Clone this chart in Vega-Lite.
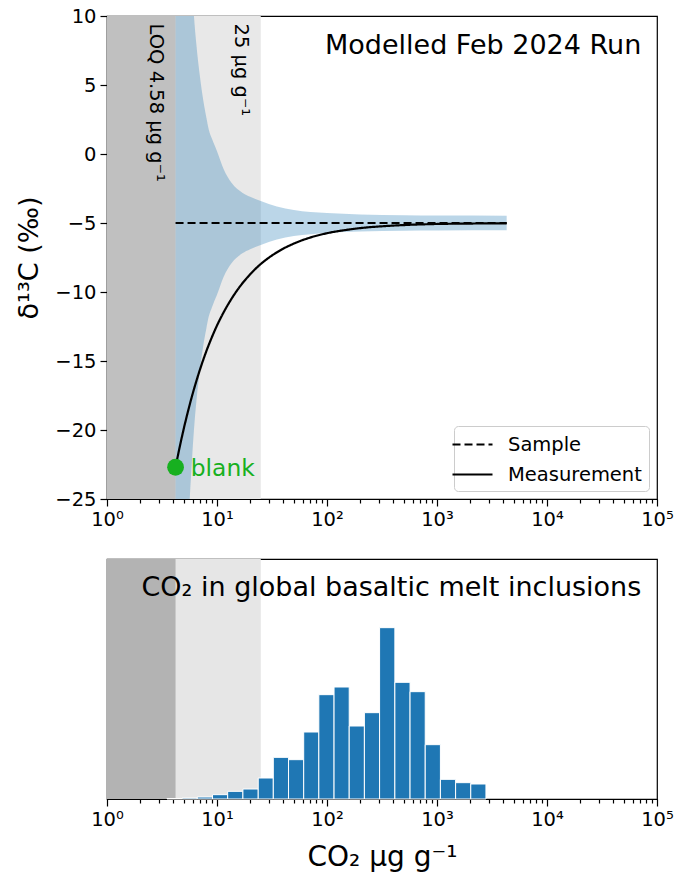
{
  "$schema": "https://vega.github.io/schema/vega-lite/v6.json",
  "background": "white",
  "padding": {"left": 15, "top": 5, "right": 10, "bottom": 0},
  "spacing": 28,
  "resolve": {"legend": {"strokeDash": "independent"}},
  "config": {
    "font": "DejaVu Sans",
    "view": {"stroke": "black", "strokeWidth": 1.2},
    "axis": {
      "domainColor": "black", "tickColor": "black", "labelColor": "black", "titleColor": "black",
      "labelFontSize": 19.5, "titleFontSize": 27, "titleFontWeight": "normal",
      "grid": false, "tickSize": 7, "domainWidth": 1.2, "tickWidth": 1.2, "labelPadding": 4
    }
  },
  "vconcat": [
    {
      "width": 550,
      "height": 483,
      "layer": [
        {
          "data": {"values": [{"a": 1, "b": 25}]},
          "mark": {"type": "rect", "color": "#e8e8e8"},
          "encoding": {
            "x": {"field": "a", "type": "quantitative",
              "scale": {"type": "log", "domain": [1, 100000]},
              "axis": {
                "title": null,
                "values": [1,2,3,4,5,6,7,8,9,10,20,30,40,50,60,70,80,90,100,200,300,400,500,600,700,800,900,1000,2000,3000,4000,5000,6000,7000,8000,9000,10000,20000,30000,40000,50000,60000,70000,80000,90000,100000],
                "labelExpr": "indexof([1,10,100,1000,10000,100000], datum.value) >= 0 ? '10' + ['⁰','¹','²','³','⁴','⁵'][indexof([1,10,100,1000,10000,100000], datum.value)] : ''",
                "tickSize": {"condition": {"test": "indexof([1,10,100,1000,10000,100000], datum.value) >= 0", "value": 7}, "value": 4},
                "labelFlush": false, "labelOverlap": false
              }},
            "x2": {"field": "b"}
          }
        },
        {
          "data": {"values": [{"a": 1, "b": 4.2}]},
          "mark": {"type": "rect", "color": "#c0c0c0"},
          "encoding": {
            "x": {"field": "a", "type": "quantitative"},
            "x2": {"field": "b"}
          }
        },
        {
          "data": {"values": [
            {"x": 4.2, "lo": -50, "hi": 40},
            {"x": 4.6, "lo": -41, "hi": 31},
            {"x": 5.0, "lo": -34, "hi": 24},
            {"x": 5.3, "lo": -29, "hi": 19},
            {"x": 5.65, "lo": -25, "hi": 15},
            {"x": 5.9, "lo": -22.4, "hi": 12.4},
            {"x": 6.17, "lo": -20, "hi": 10},
            {"x": 6.5, "lo": -17.9, "hi": 7.9},
            {"x": 7.0, "lo": -15.6, "hi": 5.6},
            {"x": 7.5, "lo": -13.9, "hi": 3.9},
            {"x": 8.0, "lo": -12.65, "hi": 2.65},
            {"x": 8.4, "lo": -11.8, "hi": 1.8},
            {"x": 9.0, "lo": -11.1, "hi": 1.1},
            {"x": 10, "lo": -10.2, "hi": 0.2},
            {"x": 11.5, "lo": -8.9, "hi": -1.1},
            {"x": 13.6, "lo": -7.9, "hi": -2.1},
            {"x": 17, "lo": -7.2, "hi": -2.8},
            {"x": 20, "lo": -6.9, "hi": -3.1},
            {"x": 25, "lo": -6.6, "hi": -3.4},
            {"x": 35, "lo": -6.2, "hi": -3.8},
            {"x": 50, "lo": -5.95, "hi": -4.05},
            {"x": 100, "lo": -5.72, "hi": -4.28},
            {"x": 200, "lo": -5.62, "hi": -4.38},
            {"x": 500, "lo": -5.56, "hi": -4.44},
            {"x": 1000, "lo": -5.54, "hi": -4.46},
            {"x": 4300, "lo": -5.53, "hi": -4.47}
          ]},
          "mark": {"type": "area", "color": "#1f77b4", "opacity": 0.3, "clip": true, "interpolate": "monotone"},
          "encoding": {
            "x": {"field": "x", "type": "quantitative"},
            "y": {"field": "lo", "type": "quantitative",
              "scale": {"domain": [-25, 10], "nice": false},
              "axis": {"title": "δ¹³C (‰)", "values": [-25,-20,-15,-10,-5,0,5,10], "titlePadding": 11}},
            "y2": {"field": "hi"}
          }
        },
        {
          "data": {"values": [
            {"x": 4.2, "y": -5, "series": "Sample"},
            {"x": 4300, "y": -5, "series": "Sample"},
            {"x": 4.2, "y": -22.7, "series": "Measurement"},
            {"x": 4.5, "y": -21.52, "series": "Measurement"},
            {"x": 5, "y": -19.87, "series": "Measurement"},
            {"x": 5.5, "y": -18.52, "series": "Measurement"},
            {"x": 6, "y": -17.39, "series": "Measurement"},
            {"x": 6.5, "y": -16.44, "series": "Measurement"},
            {"x": 7, "y": -15.62, "series": "Measurement"},
            {"x": 8, "y": -14.29, "series": "Measurement"},
            {"x": 9, "y": -13.26, "series": "Measurement"},
            {"x": 10, "y": -12.43, "series": "Measurement"},
            {"x": 12, "y": -11.2, "series": "Measurement"},
            {"x": 15, "y": -9.96, "series": "Measurement"},
            {"x": 20, "y": -8.72, "series": "Measurement"},
            {"x": 25, "y": -7.97, "series": "Measurement"},
            {"x": 30, "y": -7.48, "series": "Measurement"},
            {"x": 40, "y": -6.86, "series": "Measurement"},
            {"x": 50, "y": -6.49, "series": "Measurement"},
            {"x": 70, "y": -6.06, "series": "Measurement"},
            {"x": 100, "y": -5.74, "series": "Measurement"},
            {"x": 150, "y": -5.5, "series": "Measurement"},
            {"x": 200, "y": -5.37, "series": "Measurement"},
            {"x": 300, "y": -5.25, "series": "Measurement"},
            {"x": 500, "y": -5.15, "series": "Measurement"},
            {"x": 1000, "y": -5.07, "series": "Measurement"},
            {"x": 2000, "y": -5.04, "series": "Measurement"},
            {"x": 4300, "y": -5.02, "series": "Measurement"}
          ]},
          "mark": {"type": "line", "color": "black", "strokeWidth": 2.2, "clip": true, "interpolate": "monotone"},
          "encoding": {
            "x": {"field": "x", "type": "quantitative"},
            "y": {"field": "y", "type": "quantitative"},
            "detail": {"field": "series"},
            "strokeDash": {"field": "series", "type": "nominal",
              "scale": {"domain": ["Sample", "Measurement"], "range": [[8, 4], [1, 0]]},
              "legend": {
                "title": null, "orient": "bottom-right", "offset": 8,
                "fillColor": "white", "strokeColor": "#cccccc", "cornerRadius": 4, "padding": 7,
                "labelFontSize": 19.5, "labelColor": "black", "symbolType": "M-2,0H2", "symbolSize": 400,
                "symbolFillColor": "transparent", "symbolOffset": 0,
                "symbolStrokeWidth": 2.2, "symbolStrokeColor": "black", "labelOffset": 24, "rowPadding": 9
              }}
          }
        },
        {
          "data": {"values": [{"x": 4.2, "y": -22.7}]},
          "mark": {"type": "circle", "color": "#17b020", "opacity": 1, "size": 283},
          "encoding": {
            "x": {"field": "x", "type": "quantitative"},
            "y": {"field": "y", "type": "quantitative"}
          }
        },
        {
          "data": {"values": [{"x": 5.77, "y": -23.33, "label": "blank"}]},
          "mark": {"type": "text", "color": "#17b020", "fontSize": 23.4, "align": "left", "baseline": "alphabetic"},
          "encoding": {
            "x": {"field": "x", "type": "quantitative"},
            "y": {"field": "y", "type": "quantitative"},
            "text": {"field": "label"}
          }
        },
        {
          "data": {"values": [
            {"x": 2.45, "y": 9.45, "label": "LOQ 4.58 μg g⁻¹"},
            {"x": 14.5, "y": 9.45, "label": "25 μg g⁻¹"}
          ]},
          "mark": {"type": "text", "color": "black", "fontSize": 19.5, "angle": 90, "align": "left", "baseline": "alphabetic"},
          "encoding": {
            "x": {"field": "x", "type": "quantitative"},
            "y": {"field": "y", "type": "quantitative"},
            "text": {"field": "label"}
          }
        },
        {
          "data": {"values": [{"x": 72000, "y": 7.25, "label": "Modelled Feb 2024 Run"}]},
          "mark": {"type": "text", "color": "black", "fontSize": 27, "align": "right", "baseline": "alphabetic"},
          "encoding": {
            "x": {"field": "x", "type": "quantitative"},
            "y": {"field": "y", "type": "quantitative"},
            "text": {"field": "label"}
          }
        }
      ]
    },
    {
      "width": 550,
      "height": 240,
      "layer": [
        {
          "data": {"values": [{"a": 1, "b": 25}]},
          "mark": {"type": "rect", "color": "#e6e6e6"},
          "encoding": {
            "x": {"field": "a", "type": "quantitative",
              "scale": {"type": "log", "domain": [1, 100000]},
              "axis": {
                "title": "CO₂ μg g⁻¹", "titlePadding": 15, "titleFontSize": 28,
                "values": [1,2,3,4,5,6,7,8,9,10,20,30,40,50,60,70,80,90,100,200,300,400,500,600,700,800,900,1000,2000,3000,4000,5000,6000,7000,8000,9000,10000,20000,30000,40000,50000,60000,70000,80000,90000,100000],
                "labelExpr": "indexof([1,10,100,1000,10000,100000], datum.value) >= 0 ? '10' + ['⁰','¹','²','³','⁴','⁵'][indexof([1,10,100,1000,10000,100000], datum.value)] : ''",
                "tickSize": {"condition": {"test": "indexof([1,10,100,1000,10000,100000], datum.value) >= 0", "value": 7}, "value": 4},
                "labelFlush": false, "labelOverlap": false
              }},
            "x2": {"field": "b"}
          }
        },
        {
          "data": {"values": [{"a": 1, "b": 4.2}]},
          "mark": {"type": "rect", "color": "#b3b3b3"},
          "encoding": {
            "x": {"field": "a", "type": "quantitative"},
            "x2": {"field": "b"}
          }
        },
        {
          "data": {"values": [
            {"lo": 3.51, "hi": 4.82, "n": 1.5},
            {"lo": 4.82, "hi": 6.62, "n": 3},
            {"lo": 6.62, "hi": 9.10, "n": 6},
            {"lo": 9.10, "hi": 12.5, "n": 13},
            {"lo": 12.5, "hi": 17.2, "n": 23},
            {"lo": 17.2, "hi": 23.7, "n": 30},
            {"lo": 23.7, "hi": 32.5, "n": 63},
            {"lo": 32.5, "hi": 44.7, "n": 125},
            {"lo": 44.7, "hi": 61.4, "n": 118},
            {"lo": 61.4, "hi": 84.3, "n": 201},
            {"lo": 84.3, "hi": 115.9, "n": 313},
            {"lo": 115.9, "hi": 159.2, "n": 336},
            {"lo": 159.2, "hi": 218.8, "n": 219},
            {"lo": 218.8, "hi": 300.6, "n": 259},
            {"lo": 300.6, "hi": 414.0, "n": 514},
            {"lo": 414.0, "hi": 568.9, "n": 350},
            {"lo": 568.9, "hi": 781.6, "n": 322},
            {"lo": 781.6, "hi": 1074, "n": 163},
            {"lo": 1074, "hi": 1476, "n": 59},
            {"lo": 1476, "hi": 2028, "n": 49},
            {"lo": 2028, "hi": 2786, "n": 45}
          ]},
          "mark": {"type": "rect", "color": "#1f77b4", "stroke": "white", "strokeWidth": 1},
          "encoding": {
            "x": {"field": "lo", "type": "quantitative"},
            "x2": {"field": "hi"},
            "y": {"field": "n", "type": "quantitative", "scale": {"domain": [0, 720], "nice": false}, "axis": null},
            "y2": {"datum": 0}
          }
        },
        {
          "data": {"values": [{"x": 72000, "y": 608, "label": "CO₂ in global basaltic melt inclusions"}]},
          "mark": {"type": "text", "color": "black", "fontSize": 27, "align": "right", "baseline": "alphabetic"},
          "encoding": {
            "x": {"field": "x", "type": "quantitative"},
            "y": {"field": "y", "type": "quantitative"},
            "text": {"field": "label"}
          }
        }
      ]
    }
  ]
}
